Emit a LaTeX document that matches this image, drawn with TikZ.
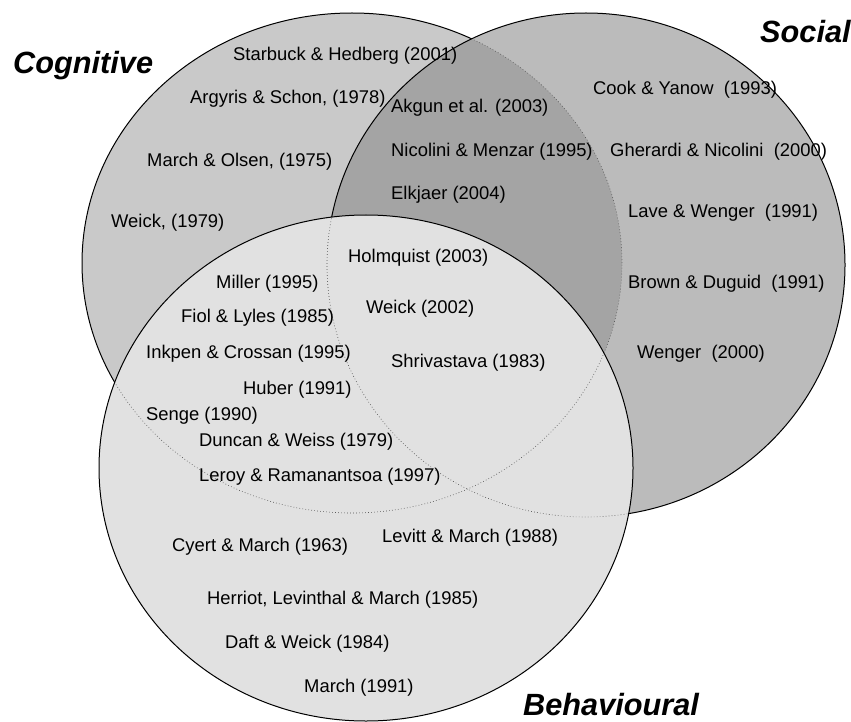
\documentclass[tikz,border=0pt]{standalone}
\usepackage{fontspec}
\setmainfont{Liberation Sans}
\definecolor{cogfill}{HTML}{C9C9C9}
\definecolor{socfill}{HTML}{BBBBBB}
\definecolor{bothfill}{HTML}{A4A4A4}
\definecolor{behfill}{HTML}{E1E1E1}
\begin{document}
\begin{tikzpicture}[x=1pt,y=-1pt,
  ref/.style={inner sep=0pt, anchor=base west, font=\fontsize{18.4pt}{22pt}\selectfont},
  title/.style={inner sep=0pt, anchor=base west, font=\fontsize{30.7pt}{36pt}\selectfont\bfseries\itshape},
  rim/.style={draw=black, line width=1pt},
  hidden/.style={draw=black!70, line width=0.6pt, dash pattern=on 0.7pt off 2.3pt}]
\useasboundingbox (0,0) rectangle (851,722);
\def\cogpath{(352,263) ellipse [x radius=270pt, y radius=250pt]}
\def\socpath{(586,265) ellipse [x radius=259pt, y radius=252pt]}
\def\behpath{(366,468) ellipse [x radius=267pt, y radius=253pt]}

% cognitive set
\fill[cogfill] \cogpath;
\draw[rim] \cogpath;
% social set, over the cognitive one
\fill[socfill] \socpath;
\begin{scope}
  \clip \cogpath;
  \fill[bothfill] \socpath;
\end{scope}
\begin{scope}
  \clip \socpath;
  \draw[hidden] \cogpath;
\end{scope}
\draw[rim] \socpath;
% behavioural set, on top
\fill[behfill] \behpath;
\begin{scope}
  \clip \behpath;
  \draw[hidden] \cogpath;
  \draw[hidden] \socpath;
\end{scope}
\draw[rim] \behpath;

% set titles
\node[title] (tcog) at (13,74) {Cognitive};
\node[title] (tsoc) at (760,43) {Social};
\node[title] (tbeh) at (523,715) {Behavioural};

% cognitive only
\node[ref] (r1) at (233,61) {Starbuck \& Hedberg (2001)};
\node[ref] (r2) at (190,104) {Argyris \& Schon, (1978)};
\node[ref] (r3) at (147,167) {March \& Olsen, (1975)};
\node[ref] (r4) at (111,228) {Weick, (1979)};
% cognitive and social
\node[ref] (r5) at (391,113) {Akgun et al. (2003)};
\node[ref] (r6) at (391,157) {Nicolini \& Menzar (1995)};
\node[ref] (r7) at (391,200) {Elkjaer (2004)};
% social only
\node[ref] (r8) at (593,95) {Cook \& Yanow\ \ (1993)};
\node[ref] (r9) at (610,157) {Gherardi \& Nicolini\ \ (2000)};
\node[ref] (r10) at (628,218) {Lave \& Wenger\ \ (1991)};
\node[ref] (r11) at (628,288) {Brown \& Duguid\ \ (1991)};
\node[ref] (r12) at (637,358) {Wenger\ \ (2000)};
% all three
\node[ref] (r13) at (348,262) {Holmquist (2003)};
\node[ref] (r14) at (366,313) {Weick (2002)};
\node[ref] (r15) at (391,367) {Shrivastava (1983)};
% cognitive and behavioural
\node[ref] (r16) at (216,288) {Miller (1995)};
\node[ref] (r17) at (181,322) {Fiol \& Lyles (1985)};
\node[ref] (r18) at (146,358) {Inkpen \& Crossan (1995)};
\node[ref] (r19) at (243,394) {Huber (1991)};
\node[ref] (r20) at (146,420) {Senge (1990)};
\node[ref] (r21) at (199,446) {Duncan \& Weiss (1979)};
\node[ref] (r22) at (199,481) {Leroy \& Ramanantsoa (1997)};
% behavioural only
\node[ref] (r23) at (382,542) {Levitt \& March (1988)};
\node[ref] (r24) at (172,551) {Cyert \& March (1963)};
\node[ref] (r25) at (207,604) {Herriot, Levinthal \& March (1985)};
\node[ref] (r26) at (225,648) {Daft \& Weick (1984)};
\node[ref] (r27) at (304,692) {March (1991)};
\end{tikzpicture}
\end{document}
